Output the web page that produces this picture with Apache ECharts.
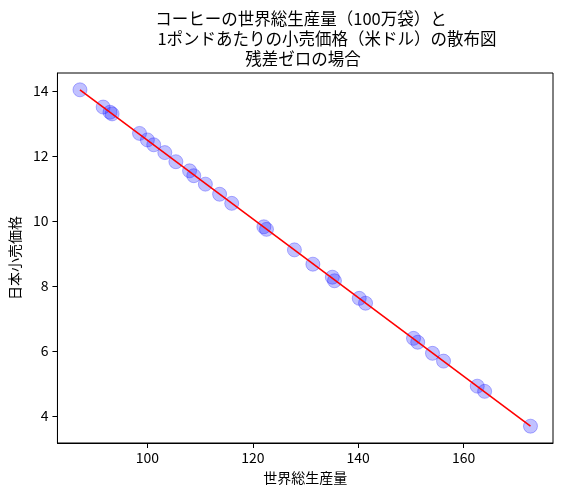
<!DOCTYPE html>
<html>
<head>
<meta charset="utf-8">
<script src="https://cdn.jsdelivr.net/npm/echarts@6/dist/echarts.min.js"></script>
<style>
  html, body { margin: 0; padding: 0; background: #fff; }
  #main { width: 562px; height: 496px; }
</style>
</head>
<body>
<div id="main"></div>
<script>
// 世界総生産量（100万袋）
var production = [87.2, 91.6, 92.9, 93.3, 98.5, 100.0, 101.2, 103.3, 105.4, 108.0,
    108.8, 111.0, 113.7, 116.0, 122.1, 122.6, 127.9, 131.4, 135.1, 135.5,
    140.2, 141.4, 150.5, 151.3, 154.1, 156.2, 162.6, 164.0, 172.7];
// 日本小売価格（米ドル / ポンド）
var price = [14.03, 13.50, 13.34, 13.29, 12.69, 12.49, 12.34, 12.10, 11.82, 11.54,
    11.39, 11.13, 10.82, 10.54, 9.82, 9.74, 9.11, 8.67, 8.27, 8.16,
    7.62, 7.47, 6.39, 6.27, 5.93, 5.69, 4.92, 4.76, 3.69];
var xTicks = [100, 120, 140, 160];
var yTicks = [4, 6, 8, 10, 12, 14];
var titleLines = ['コーヒーの世界総生産量（100万袋）と', '1ポンドあたりの小売価格（米ドル）の散布図', '残差ゼロの場合'];

var font = '"Noto Sans CJK JP", "Noto Sans", sans-serif';

// 最小二乗で回帰直線
var n = production.length, sx = 0, sy = 0, sxx = 0, sxy = 0;
for (var i = 0; i < n; i++) {
    sx += production[i]; sy += price[i];
    sxx += production[i] * production[i]; sxy += production[i] * price[i];
}
var slope = (n * sxy - sx * sy) / (n * sxx - sx * sx);
var icpt = (sy - slope * sx) / n;
var xmin = Math.min.apply(null, production), xmax = Math.max.apply(null, production);
var ymin = Math.min.apply(null, price), ymax = Math.max.apply(null, price);
var fitLine = [[xmin, icpt + slope * xmin], [xmax, icpt + slope * xmax]];

var points = production.map(function (x, i) { return [x, price[i]]; });
var mx = (xmax - xmin) * 0.05, my = (ymax - ymin) * 0.05;

var dom = document.getElementById('main');
var chart = echarts.init(dom);
var option = {
    animation: false,
    backgroundColor: '#fff',
    textStyle: { fontFamily: font },
    graphic: titleLines.map(function (t, i) {
        return {
            type: 'text',
            x: [301, 327, 303][i],
            y: 18.5 + 20 * i,
            style: {
                text: t,
                align: 'center',
                verticalAlign: 'middle',
                fontSize: 16.5,
                fontFamily: font,
                fill: '#000'
            }
        };
    }),
    grid: {
        left: 57, right: 9, top: 73, bottom: 53,
        show: true, borderColor: '#000', borderWidth: 1,
        containLabel: false
    },
    xAxis: {
        type: 'value',
        min: xmin - mx,
        max: xmax + mx,
        name: '世界総生産量',
        nameLocation: 'middle',
        nameGap: 28,
        nameTextStyle: { fontSize: 14, color: '#000', fontFamily: font },
        axisLine: { show: true, onZero: false, lineStyle: { color: '#000', width: 1 } },
        axisTick: { show: true, length: 5, lineStyle: { color: '#000' }, customValues: xTicks },
        axisLabel: { fontSize: 14, color: '#000', margin: 8, customValues: xTicks },
        splitLine: { show: false }
    },
    yAxis: {
        type: 'value',
        min: ymin - my,
        max: ymax + my,
        name: '日本小売価格',
        nameLocation: 'middle',
        nameGap: 33,
        nameRotate: 90,
        nameTextStyle: { fontSize: 14, color: '#000', fontFamily: font },
        axisLine: { show: true, onZero: false, lineStyle: { color: '#000', width: 1 } },
        axisTick: { show: true, length: 5, lineStyle: { color: '#000' }, customValues: yTicks },
        axisLabel: { fontSize: 14, color: '#000', margin: 9, customValues: yTicks },
        splitLine: { show: false }
    },
    series: [
        {
            type: 'scatter',
            data: points,
            symbolSize: 14,
            itemStyle: {
                color: 'rgba(0,0,255,0.3)',
                borderColor: 'rgba(0,0,255,0.35)',
                borderWidth: 1
            },
            z: 2
        },
        {
            type: 'line',
            data: fitLine,
            symbol: 'none',
            lineStyle: { color: '#ff0000', width: 1.6 },
            z: 3
        }
    ]
};
chart.setOption(option);
</script>
</body>
</html>
